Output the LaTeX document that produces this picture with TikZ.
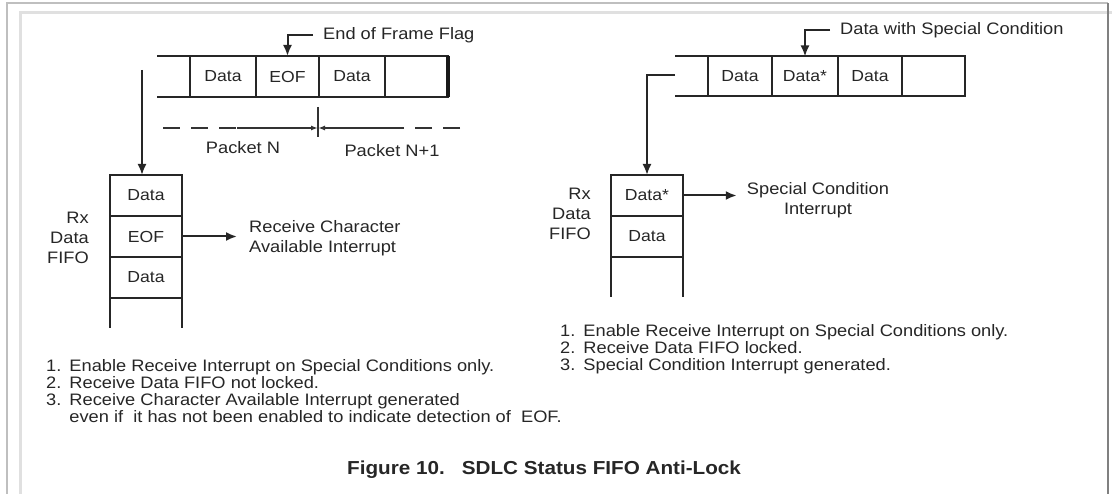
\documentclass[tikz,border=0pt]{standalone}
\usepackage{fontspec}
\setmainfont{Liberation Sans}[FakeStretch=1.1]
\usetikzlibrary{arrows.meta}
\begin{document}
\begin{tikzpicture}[x=1pt,y=-1pt]
\tikzset{
 ln/.style={draw=black!85, line width=2pt},
 thin ln/.style={draw=black!80, line width=1.4pt},
 arr/.style={ln, -{Latex[length=11pt,width=9pt]}},
 smallarr/.style={thin ln, -{Latex[length=7pt,width=5pt]}},
 cell/.style={draw=black!85, line width=2pt, inner sep=0pt, outer sep=0pt,
   text=black!85, font=\fontsize{16}{18}\selectfont},
 lbl/.style={font=\fontsize{16.6}{20}\selectfont, text=black!85, inner sep=0pt},
 note/.style={font=\fontsize{16.6}{17}\selectfont, text=black!85, inner sep=0pt},
}
\useasboundingbox (0,0) rectangle (1112,494);
% page frame
\draw[black!12, line width=3pt] (20,494) -- (20,13) -- (1112,13);
\draw[black!25, line width=1.5pt] (7,494) -- (7,3) -- (1108,3);
\draw[black!50, line width=1.5pt] (1108,3) -- (1108,494);

% ---------- left top strip ----------
\node[cell, minimum width=66pt, minimum height=41pt] (l1) at (223,76.5) {Data};
\node[cell, minimum width=63pt, minimum height=41pt] (l2) at (287.5,76.5) {EOF};
\node[cell, minimum width=66pt, minimum height=41pt] (l3) at (352,76.5) {Data};
\node[cell, minimum width=63pt, minimum height=41pt] (l4) at (416.5,76.5) {};
\coordinate (ltl) at (157,56);
\coordinate (lbl) at (157,97);
\draw[ln] (ltl) -- (l1.north west);
\draw[ln] (lbl) -- (l1.south west);
\draw[draw=black!90, line width=3.4pt] (l4.north east) -- (l4.south east);

\node[lbl, anchor=west] (eofl) at (323,35) {End of Frame Flag};
\draw[arr] ([xshift=-10pt]eofl.west) -| (l2.north);

% packet boundary
\coordinate (pk) at (318,128);
\coordinate (pkt) at (318,107);
\coordinate (pkb) at (318,137);
\coordinate (dl0) at (163,128);
\coordinate (dl1) at (237,128);
\coordinate (dr1) at (391,128);
\coordinate (dr0) at (460,128);
\draw[thin ln] (pkt) -- (pkb);
\draw[thin ln, dash pattern=on 17pt off 11pt] (dl0) -- (dl1);
\draw[thin ln, dash pattern=on 17pt off 11pt] (dr0) -- (dr1);
\draw[smallarr] (dl1) -- (pk);
\draw[smallarr] (dr1) -- (pk);
\node[lbl] (pn) at (243,148) {Packet N};
\node[lbl] (pn1) at (392,151) {Packet N+1};

% ---------- left FIFO ----------
\node[cell, minimum width=72pt, minimum height=41pt] (lf1) at (146,195.5) {Data};
\node[cell, minimum width=72pt, minimum height=41pt] (lf2) at (146,236.5) {EOF};
\node[cell, minimum width=72pt, minimum height=41pt] (lf3) at (146,277.5) {Data};
\draw[ln] (lf3.south west) -- ++(0,30);
\draw[ln] (lf3.south east) -- ++(0,30);
\coordinate (lsrc) at (142,70);
\draw[arr] (lsrc) -- (lsrc |- lf1.north);
\node[lbl, anchor=east, align=right] (rxl) at (89,238) {Rx\\Data\\FIFO};
\node[lbl, anchor=west, align=left, inner xsep=12pt] (rcai) at (237,238) {Receive Character\\Available Interrupt};
\draw[arr] (lf2.east) -- (lf2.east -| rcai.west);

% ---------- right top strip ----------
\node[cell, minimum width=64pt, minimum height=40pt] (r1) at (740,76.5) {Data};
\node[cell, minimum width=66pt, minimum height=40pt] (r2) at (805,76.5) {Data*};
\node[cell, minimum width=64pt, minimum height=40pt] (r3) at (870,76.5) {Data};
\node[cell, minimum width=63pt, minimum height=40pt] (r4) at (933.5,76.5) {};
\coordinate (rtl) at (675,56.5);
\coordinate (rbl) at (675,96.5);
\draw[ln] (rtl) -- (r1.north west);
\draw[ln] (rbl) -- (r1.south west);
\node[lbl, anchor=west] (dscl) at (840,30) {Data with Special Condition};
\draw[arr] ([xshift=-10pt]dscl.west) -| (r2.north);

% ---------- right FIFO ----------
\node[cell, minimum width=72pt, minimum height=41pt] (rf1) at (647,195.5) {Data*};
\node[cell, minimum width=72pt, minimum height=41pt] (rf2) at (647,236.5) {Data};
\draw[ln] (rf2.south west) -- ++(0,40);
\draw[ln] (rf2.south east) -- ++(0,40);
\coordinate (rsrc) at (675,75);
\draw[arr] (rsrc) -| (rf1.north);
\node[lbl, anchor=east, align=right] (rxr) at (591,214) {Rx\\Data\\FIFO};
\node[lbl, align=center, inner xsep=10pt] (sci) at (818,200) {Special Condition\\Interrupt};
\draw[arr] (rf1.east) -- (rf1.east -| sci.west);

% ---------- notes ----------
\node[note, anchor=north west] (notesl) at (46,359) {%
\begin{tabular}{@{}l@{\hspace{8pt}}l@{}}
1. & Enable Receive Interrupt on Special Conditions only.\\
2. & Receive Data FIFO not locked.\\
3. & Receive Character Available Interrupt generated\\
   & even if \ it has not been enabled to indicate detection of \ EOF.
\end{tabular}};
\node[note, anchor=north west] (notesr) at (560,324) {%
\begin{tabular}{@{}l@{\hspace{8pt}}l@{}}
1. & Enable Receive Interrupt on Special Conditions only.\\
2. & Receive Data FIFO locked.\\
3. & Special Condition Interrupt generated.
\end{tabular}};

\node[font=\bfseries\fontsize{18.8}{22}\selectfont, text=black!85, inner sep=0pt, anchor=west] (cap) at (347,470) {Figure 10.\hspace{0.9em}SDLC Status FIFO Anti-Lock};
\end{tikzpicture}
\end{document}
